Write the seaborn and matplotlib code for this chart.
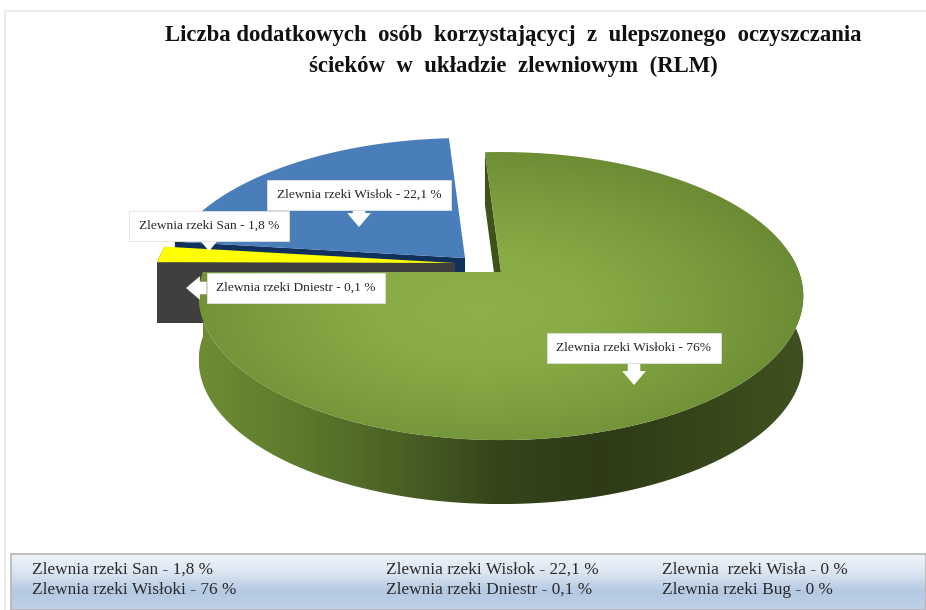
import numpy as np
import seaborn as sns
import matplotlib
matplotlib.use('Agg')
import matplotlib.pyplot as plt
from matplotlib.patches import Polygon, Rectangle

sns.set_theme(style="white")
plt.rcParams['font.family'] = ['Liberation Serif', 'DejaVu Serif']

# Dane
zlewnie = ['Wisłoki', 'Dniestr', 'San', 'Wisłok', 'Wisła', 'Bug']
udzial = [76, 0.1, 1.8, 22.1, 0, 0]
kat_startu = -3.6

tytul = ['Liczba dodatkowych  osób  korzystającycj  z  ulepszonego  oczyszczania',
         'ścieków  w  układzie  zlewniowym  (RLM)']
legenda_kol1 = ['Zlewnia rzeki San - 1,8 %', 'Zlewnia rzeki Wisłoki - 76 %']
legenda_kol2 = ['Zlewnia rzeki Wisłok - 22,1 %', 'Zlewnia rzeki Dniestr - 0,1 %']
legenda_kol3 = ['Zlewnia  rzeki Wisła - 0 %', 'Zlewnia rzeki Bug - 0 %']

# Geometria pseudo-3D (piksele obrazka)
wierzcholki = {'Wisłoki': (501, 272), 'Dniestr': (455, 263), 'San': (455, 263), 'Wisłok': (465, 258)}
RX, RY, PERSP = 298, 140, 0.167
GLEBOKOSC = 64


def luk(wierzcholek, a0, a1, n=200):
    # katy zgodnie z zegarem od godziny 12, rzut z lekka perspektywa
    t = np.radians(np.linspace(a0, a1, n))
    s = 1 / (1 + PERSP * np.cos(t))
    return wierzcholek[0] + RX * np.sin(t) * s, wierzcholek[1] - RY * np.cos(t) * s


def gradient(ax, pts, siatka, kolory, z):
    x0, x1, y0, y1 = pts[:, 0].min(), pts[:, 0].max(), pts[:, 1].min(), pts[:, 1].max()
    cmap = sns.blend_palette(kolory, as_cmap=True)
    im = ax.imshow(siatka(x0, x1, y0, y1), extent=(x0, x1, y1, y0), cmap=cmap, vmin=0, vmax=1,
                   aspect='auto', zorder=z)
    p = Polygon(pts, closed=True, transform=ax.transData, fc='none', ec='none')
    ax.add_patch(p)
    im.set_clip_path(p)


def siatka_radialna(x0, x1, y0, y1):
    X, Y = np.meshgrid(np.linspace(x0, x1, 300), np.linspace(y0, y1, 300))
    return np.clip(np.hypot((X - 480) / 340, (Y - 310) / 170), 0, 1)


def siatka_pozioma(x0, x1, y0, y1):
    return np.tile(np.linspace(0, 1, 300), (2, 1))


fig = plt.figure(figsize=(9.26, 6.10), dpi=100)
ax = fig.add_axes([0, 0, 1, 1])

# Ramka wykresu
ax.plot([5, 5, 926], [610, 11, 11], color='#ebebeb', lw=1.5, zorder=1)

# Katy wycinkow
konce = kat_startu + np.cumsum(udzial) * 3.6
poczatki = konce - np.array(udzial) * 3.6
katy = {z: (a, b) for z, a, b in zip(zlewnie, poczatki, konce) if b > a}

# Wislok - niebieski
x, y = luk(wierzcholki['Wisłok'], *katy['Wisłok'])
v = wierzcholki['Wisłok']
ax.fill([v[0], x[0], x[0], v[0]], [v[1], y[0], y[0] + GLEBOKOSC, v[1] + GLEBOKOSC], color='#12305c', lw=0, zorder=2)
ax.fill(np.r_[v[0], x], np.r_[v[1], y], color='#4a7ebb', lw=0, zorder=3)

# Dniestr i San - sciana szara, San zolty
for nazwa, kolor in [('Dniestr', '#3f3f3f'), ('San', '#ffff00')]:
    v = wierzcholki[nazwa]
    x, y = luk(v, *katy[nazwa], n=30)
    ax.fill(np.r_[v[0], x, x[::-1], v[0]], np.r_[v[1], y, y[::-1] + GLEBOKOSC - 4, v[1] + GLEBOKOSC - 4],
            color='#3f3f3f', lw=0, zorder=4)
    ax.fill(np.r_[v[0], x], np.r_[v[1], y], color=kolor, lw=0, zorder=5)
v = wierzcholki['San']
x, y = luk(v, katy['Dniestr'][0], katy['San'][1], n=30)
ax.fill(np.r_[v[0], x[0], x[0], v[0]], [v[1], y[0], y[0] + 60, v[1] + 60], color='#3f3f3f', lw=0, zorder=4)

# Wisloki - zielony
v = wierzcholki['Wisłoki']
a0, a1 = katy['Wisłoki']
x, y = luk(v, a0, a1, n=400)
ax.fill([v[0], x[0], x[0], v[0]], [v[1], y[0], y[0] + 53, v[1] + 53], color='#3f5219', lw=0, zorder=6)
xs, ys = luk(v, 82, a1, n=300)
sciana = np.c_[np.r_[xs, xs[::-1]], np.r_[ys, ys[::-1] + GLEBOKOSC]]
gradient(ax, sciana, siatka_pozioma, ['#6d8c34', '#5c7a2c', '#4a6025', '#35441a', '#2e3b16', '#36461a', '#3f5120'], 7)
gora = np.c_[np.r_[v[0], x], np.r_[v[1], y]]
gradient(ax, gora, siatka_radialna, ['#8db04a', '#88ab46', '#7a9c3d', '#6a8a33'], 8)

# Etykiety z bialymi strzalkami
etykiety = [('Zlewnia rzeki Wisłok - 22,1 %', (359, 195), (359, 227)),
            ('Zlewnia rzeki San - 1,8 %', (209, 226), (209, 251)),
            ('Zlewnia rzeki Dniestr - 0,1 %', (296, 288), (186, 288)),
            ('Zlewnia rzeki Wisłoki - 76%', (634, 348), (634, 385))]
for tekst, srodek, cel in etykiety:
    ax.annotate(tekst, xy=cel, xytext=srodek, ha='center', va='center', fontsize=9.6, color='#262626',
                bbox=dict(boxstyle='square,pad=0.7', fc='white', ec='#e2e2e2', lw=0.6),
                arrowprops=dict(facecolor='white', edgecolor='none', width=9, headwidth=17, headlength=10, shrink=0),
                zorder=10)

# Tytul
ax.text(513, 36, tytul[0], ha='center', va='center', fontsize=16.4, fontweight='bold', color='#111111', zorder=10)
ax.text(513, 66, tytul[1], ha='center', va='center', fontsize=16.4, fontweight='bold', color='#111111', zorder=10)

# Legenda
ax.imshow(np.linspace(0, 1, 100).reshape(-1, 1), extent=(11, 926, 610, 554), aspect='auto', zorder=2,
          cmap=sns.blend_palette(['#f0f4fa', '#dbe5f1', '#b4c9e2', '#bdd0e6'], as_cmap=True))
ax.add_patch(Rectangle((11, 554), 915, 56, fc='none', ec='#b5b5b5', lw=1.2, zorder=3))
for kol, xk in [(legenda_kol1, 32), (legenda_kol2, 386), (legenda_kol3, 662)]:
    for tekst, yk in zip(kol, [570, 590]):
        ax.text(xk, yk, tekst, ha='left', va='center', fontsize=12.4, color='#2a2a2a', zorder=4)

ax.set_xlim(0, 926)
ax.set_ylim(610, 0)
ax.axis('off')
fig.savefig('out.png', dpi=100)
